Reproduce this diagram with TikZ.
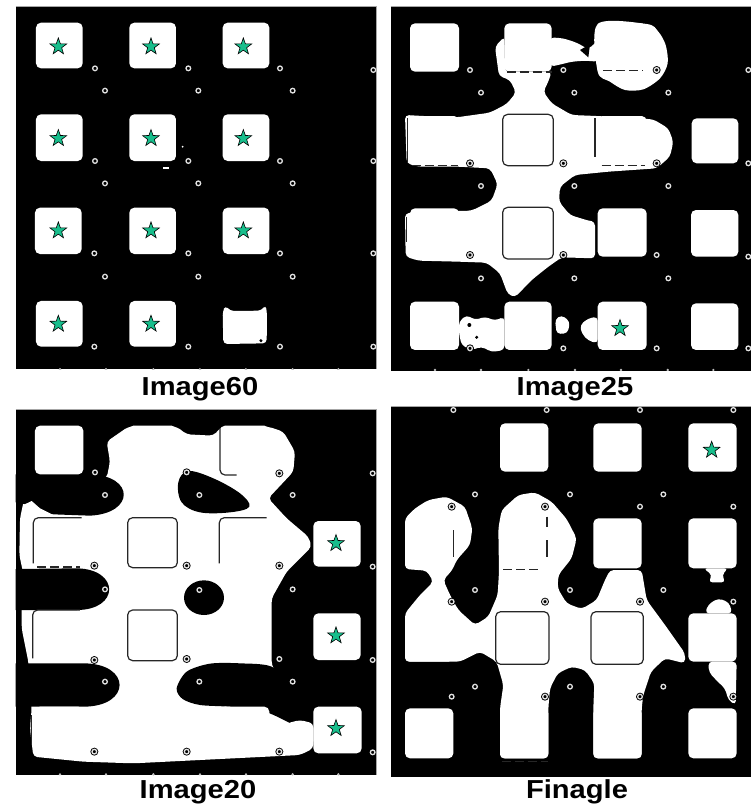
\documentclass[tikz,border=0pt]{standalone}
\usepackage{fontspec}
\setmainfont{Liberation Sans}
\usetikzlibrary{shapes.geometric}
\definecolor{starc}{RGB}{24,190,140}
\definecolor{ringc}{RGB}{225,225,225}
\tikzset{
  wsq/.style={fill=white, rounded corners=5pt},
  wblob/.style={fill=white, rounded corners=4pt},
  ghost/.style={draw=black!85, line width=1.2pt, rounded corners=5pt},
  ghostd/.style={ghost, dash pattern=on 9pt off 4pt},
  holering/.style={draw=ringc, line width=1.3pt},
  frame/.style={draw=black!35, line width=1pt},
  starnode/.style={star, star points=5, star point ratio=2.5, minimum size=17.5pt, inner sep=0pt, fill=starc, draw=black, line width=0.6pt},
  lab/.style={font=\bfseries\fontsize{26}{26}\selectfont, anchor=base, inner sep=0pt}
}
\newcommand\hole[1]{\fill[black] (#1) circle (12); \draw[holering] (#1) circle (7);}
\newcommand\tickdot[1]{\fill[black!25] (#1) circle (4);}
\newcommand\sq[4]{\fill[wsq] (#1,#2) rectangle (#3,#4);}
\begin{document}
\begin{tikzpicture}[x=1pt, y=-1pt]
\useasboundingbox (0,0) rectangle (750,806);
\fill[white] (0,0) rectangle (750,806);

% ================= Panel 1: Image60 =================
\begin{scope}[shift={(0,0)}, scale=1/3]
  \fill[black] (47,18) rectangle (1130,1108);
  \begin{scope}
    \clip (47,18) rectangle (1130,1108);
    \sq{108}{68}{248}{205} \sq{388}{68}{528}{205} \sq{668}{68}{808}{205}
    \sq{108}{343}{248}{483} \sq{388}{343}{528}{483} \sq{668}{343}{808}{483}
    \sq{105}{623}{245}{762} \sq{388}{623}{528}{762} \sq{668}{623}{808}{762}
    \sq{108}{903}{248}{1040} \sq{388}{903}{528}{1040}
    \fill[wblob] (670,1032) -- (668,935) -- (676,916) -- (690,933) -- (785,932) -- (797,914) -- (801,940) -- (800,1030) -- cycle;
    \fill[black] (783,1022) circle (5);
    \fill[white] (488,500) rectangle (508,508);
    \fill[white] (548,440) circle (3);
    \foreach \a/\b in {285/205,315/272,565/205,595/272,840/205,878/272,1120/210,
                       285/483,315/550,565/483,595/550,840/483,878/550,1120/483,
                       283/760,315/830,565/760,595/830,840/760,878/830,1120/760,
                       283/1040,565/1040,840/1040,1120/1040} {\hole{\a,\b}}
    \foreach \a in {180,318,460,600,738,878,1015} {\tickdot{\a,1108}}
  \end{scope}
  \draw[frame] (47,18) -- (1130,18) -- (1130,1108);
  \node[starnode] (s11) at (175,140) {};
  \node[starnode] (s12) at (453,140) {};
  \node[starnode] (s13) at (730,140) {};
  \node[starnode] (s21) at (175,415) {};
  \node[starnode] (s22) at (453,415) {};
  \node[starnode] (s23) at (730,415) {};
  \node[starnode] (s31) at (175,692) {};
  \node[starnode] (s32) at (453,692) {};
  \node[starnode] (s33) at (730,692) {};
  \node[starnode] (s41) at (175,972) {};
  \node[starnode] (s42) at (453,972) {};
\end{scope}

% ================= Panel 2: Image25 =================
\begin{scope}[shift={(375,0)}, scale=1/3]
  \fill[black] (47,20) rectangle (1130,1112);
  \begin{scope}
    \clip (47,20) rectangle (1130,1112);
    \fill[wblob] (390,215) -- (530,215) -- (520,245) -- (505,275) -- (530,310) -- (590,345) -- (665,348) -- (835,358) -- (880,385) -- (895,425) -- (885,470) -- (845,505) -- (700,515) -- (600,525) -- (555,560) -- (552,605) -- (585,645) -- (640,662) -- (660,665) -- (660,775) -- (560,772) -- (520,800) -- (470,840) -- (420,892) -- (398,882) -- (375,820) -- (335,788) -- (250,785) -- (130,782) -- (92,770) -- (90,640) -- (150,635) -- (290,632) -- (350,602) -- (368,552) -- (345,505) -- (250,500) -- (130,500) -- (95,490) -- (90,345) -- (145,348) -- (245,352) -- (345,338) -- (395,312) -- (423,278) -- (405,240) -- (372,228) -- (360,140) -- (388,110) -- cycle;
    \fill[white] plot[smooth cycle, tension=0.5] coordinates {(668,72) (815,72) (850,95) (872,135) (878,190) (855,235) (805,268) (750,270) (705,245) (668,215)};
    \fill[wblob] (525,112) -- (565,115) -- (605,128) -- (640,148) -- (670,120) -- (670,185) -- (630,182) -- (590,185) -- (550,195) -- (525,200) -- cycle;
    \fill[black] (615,150) -- (645,133) -- (640,172) -- cycle;
    \fill[wblob] (252,965) -- (275,945) -- (300,960) -- (330,950) -- (360,962) -- (388,950) -- (388,1050) -- (350,1056) -- (320,1040) -- (290,1050) -- (260,1036) -- (252,1000) -- cycle;
    \fill[black] (283,975) circle (6); \fill[black] (305,1012) circle (5);
    \fill[wblob] (540,958) -- (560,945) -- (585,965) -- (578,1000) -- (545,1002) -- cycle;
    \fill[wblob] (615,975) -- (640,955) -- (668,950) -- (668,1030) -- (640,1022) -- (620,1000) -- cycle;
    \sq{105}{70}{252}{215} \sq{388}{70}{530}{215} \sq{668}{70}{815}{215}
    \sq{105}{348}{252}{495} \sq{388}{348}{530}{495} \sq{668}{348}{815}{495} \sq{950}{355}{1090}{490}
    \sq{105}{625}{252}{770} \sq{388}{625}{530}{770} \sq{668}{625}{815}{770} \sq{948}{630}{1090}{770}
    \sq{105}{905}{252}{1050} \sq{388}{905}{530}{1050} \sq{668}{905}{815}{1050} \sq{948}{910}{1090}{1050}
    \draw[ghost] (383,343) rectangle (535,497);
    \draw[ghost] (383,622) rectangle (535,777);
    \draw[ghost] (98,355) -- (98,490);
    \draw[ghostd] (110,496) -- (250,496);
    \draw[ghostd] (395,216) -- (532,216);
    \draw[ghost] (660,355) -- (660,470);
    \draw[ghostd] (680,496) -- (810,496);
    \draw[ghostd] (685,212) -- (805,212);
    \draw[ghost] (94,650) -- (94,725);
    \foreach \a/\b in {285/210,318/278,565/210,598/278,845/210,880/278,1120/210,
                       285/490,318/558,565/490,598/558,845/490,880/558,1120/490,
                       285/765,318/835,565/765,598/835,845/765,880/835,1120/770,
                       285/1045,565/1045,845/1045,1120/1045} {\hole{\a,\b}}
    \foreach \a in {180,318,460,600,738,878,1015} {\tickdot{\a,1110}}
  \end{scope}
  \draw[frame] (47,20) -- (1130,20);
  \node[starnode] (t43) at (735,985) {};
\end{scope}

% ================= Panel 3: Image20 =================
\begin{scope}[shift={(0,395)}, scale=1/3]
  \fill[black] (47,42) rectangle (1130,1140);
  \begin{scope}
    \clip (47,42) rectangle (1130,1140);
    \fill[wblob] (320,140) -- (385,95) -- (530,95) -- (560,118) -- (640,122) -- (665,95) -- (805,95) -- (850,110) -- (885,170) -- (880,230) -- (805,310) -- (860,370) -- (925,425) -- (935,455) -- (860,530) -- (815,610) -- (815,810) -- (900,960) -- (940,985) -- (940,1060) -- (900,1080) -- (800,1085) -- (600,1095) -- (400,1105) -- (250,1100) -- (100,1085) -- (90,1000) -- (95,940) -- (85,800) -- (65,700) -- (65,640) -- (75,560) -- (58,480) -- (60,370) -- (75,300) -- (120,265) -- (200,250) -- (320,250) -- (330,200) -- cycle;
    \fill[black] (47,238) -- (270,238) .. controls (405,242) and (405,355) .. (270,362) -- (160,358) .. controls (110,352) and (90,325) .. (47,322) -- cycle;
    \fill[white] (70,330) -- (95,318) -- (120,340) -- (160,360) -- (100,372) -- (62,372) -- cycle;
    \fill[black] plot[smooth cycle, tension=0.6] coordinates {(535,262) (565,228) (640,250) (720,295) (748,335) (690,352) (600,352) (545,322)};
    \fill[black] (47,522) -- (230,520) .. controls (360,522) and (360,645) .. (230,645) -- (47,645) -- cycle;
    \fill[black] (612,608) ellipse (60 and 52);
    \fill[black] (47,805) -- (250,805) .. controls (395,805) and (395,935) .. (250,935) -- (47,935) -- cycle;
    \fill[black] plot[smooth cycle, tension=0.5] coordinates {(530,880) (560,830) (630,806) (720,805) (815,815) (880,875) (940,950) (940,1000) (880,988) (800,952) (700,936) (600,930) (548,912)};
    \fill[wblob] (860,985) -- (900,975) -- (940,985) -- (940,1050) -- (880,1045) -- cycle;
    \sq{105}{92}{250}{238} \sq{385}{92}{530}{238} \sq{660}{92}{808}{238}
    \sq{105}{370}{250}{515} \sq{385}{370}{530}{515} \sq{660}{370}{808}{515} \sq{940}{378}{1082}{515}
    \sq{105}{650}{250}{795} \sq{385}{650}{530}{795} \sq{660}{652}{808}{798} \sq{940}{655}{1082}{795}
    \sq{105}{935}{250}{1075} \sq{385}{935}{530}{1075} \sq{660}{935}{808}{1075} \sq{940}{935}{1085}{1075}
    \draw[ghost] (383,368) rectangle (532,518);
    \draw[ghost] (383,645) rectangle (532,797);
    \draw[ghost] (100,505) -- (100,368) -- (245,368);
    \draw[ghostd] (112,516) -- (240,516);
    \draw[ghost] (98,790) -- (98,645) -- (240,645);
    \draw[ghost] (658,505) -- (658,368) -- (800,368);
    \draw[ghost] (660,100) -- (660,240) -- (710,240);
    \draw[ghost] (95,960) -- (95,1050);
    \foreach \a/\b in {285/232,315/300,560/232,598/300,838/235,878/300,1118/235,
                       283/512,315/583,560/512,598/585,838/512,878/583,1118/515,
                       283/795,315/860,560/792,598/860,838/792,878/860,1118/795,
                       283/1070,560/1070,838/1070,1118/1072} {\hole{\a,\b}}
    \foreach \a in {180,318,460,600,738,878,1015} {\tickdot{\a,1138}}
  \end{scope}
  \draw[frame] (47,42) -- (1130,42) -- (1130,1140);
  \node[starnode] (u24) at (1008,445) {};
  \node[starnode] (u34) at (1008,722) {};
  \node[starnode] (u44) at (1008,1000) {};
\end{scope}

% ================= Panel 4: Finagle =================
\begin{scope}[shift={(375,395)}, scale=1/3]
  \fill[black] (48,35) rectangle (1130,1145);
  \begin{scope}
    \clip (48,35) rectangle (1130,1145);
    \fill[wblob] (380,345) -- (430,300) -- (480,292) -- (530,320) -- (575,372) -- (605,430) -- (590,490) -- (550,540) -- (548,580) -- (575,625) -- (620,642) -- (665,615) -- (690,555) -- (705,525) -- (800,525) -- (815,615) -- (870,690) -- (930,775) -- (930,805) -- (870,790) -- (828,830) -- (805,900) -- (800,940) -- (800,1090) -- (655,1090) -- (655,940) -- (658,865) -- (630,825) -- (590,815) -- (548,835) -- (525,880) -- (520,940) -- (520,1090) -- (375,1090) -- (375,940) -- (385,870) -- (365,800) -- (315,770) -- (255,800) -- (90,800) -- (90,655) -- (135,600) -- (175,560) -- (155,527) -- (90,522) -- (90,370) -- (120,340) -- (160,315) -- (215,305) -- (270,335) -- (292,400) -- (285,450) -- (245,495) -- (232,525) -- (205,555) -- (225,600) -- (250,645) -- (300,690) -- (340,665) -- (368,600) -- (372,530) -- (370,400) -- cycle;
    \fill[wblob] (985,520) -- (1060,520) -- (1040,540) -- (1052,562) -- (1000,562) -- (1012,540) -- cycle;
    \fill[wblob] (990,655) -- (1000,628) -- (1030,610) -- (1062,622) -- (1072,655) -- cycle;
    \fill[wblob] (1000,800) -- (1085,800) -- (1082,930) -- (1060,915) -- (1050,880) -- (1030,862) -- (1002,832) -- cycle;
    \sq{375}{85}{520}{230} \sq{655}{85}{800}{230} \sq{940}{85}{1085}{230}
    \sq{90}{370}{235}{520} \sq{375}{370}{520}{520} \sq{655}{370}{800}{520} \sq{940}{370}{1085}{520}
    \sq{90}{655}{235}{800} \sq{375}{655}{520}{800} \sq{655}{655}{800}{800} \sq{940}{655}{1085}{800}
    \sq{90}{940}{235}{1090} \sq{375}{940}{520}{1090} \sq{655}{940}{800}{1090} \sq{940}{940}{1085}{1090}
    \draw[ghost] (362,650) rectangle (522,808);
    \draw[ghost] (648,650) rectangle (805,808);
    \draw[ghost] (235,405) -- (235,485);
    \draw[ghostd] (385,523) -- (500,523);
    \draw[ghost] (516,365) -- (516,395);
    \draw[ghost] (516,435) -- (516,485);
    \draw[ghostd] (380,1100) -- (520,1100);
    \foreach \a/\b in {235/45,515/45,795/45,1075/45,
                       300/298,585/298,865/298,230/335,510/335,795/335,1075/335,
                       300/585,585/585,865/585,230/620,510/620,795/620,1075/620,
                       300/875,585/875,865/875,230/905,510/905,795/905,1075/905} {\hole{\a,\b}}
  \end{scope}
  \draw[frame] (48,35) -- (1130,35);
  \node[starnode] (v14) at (1010,165) {};
\end{scope}

% ================= Labels =================
\node[lab] (lab60) at (200,395) {\scalebox{1.12}[1]{Image60}};
\node[lab] (lab25) at (575,395) {\scalebox{1.12}[1]{Image25}};
\node[lab] (lab20) at (198,798) {\scalebox{1.12}[1]{Image20}};
\node[lab] (labfi) at (577,798) {\scalebox{1.12}[1]{Finagle}};
\end{tikzpicture}
\end{document}
